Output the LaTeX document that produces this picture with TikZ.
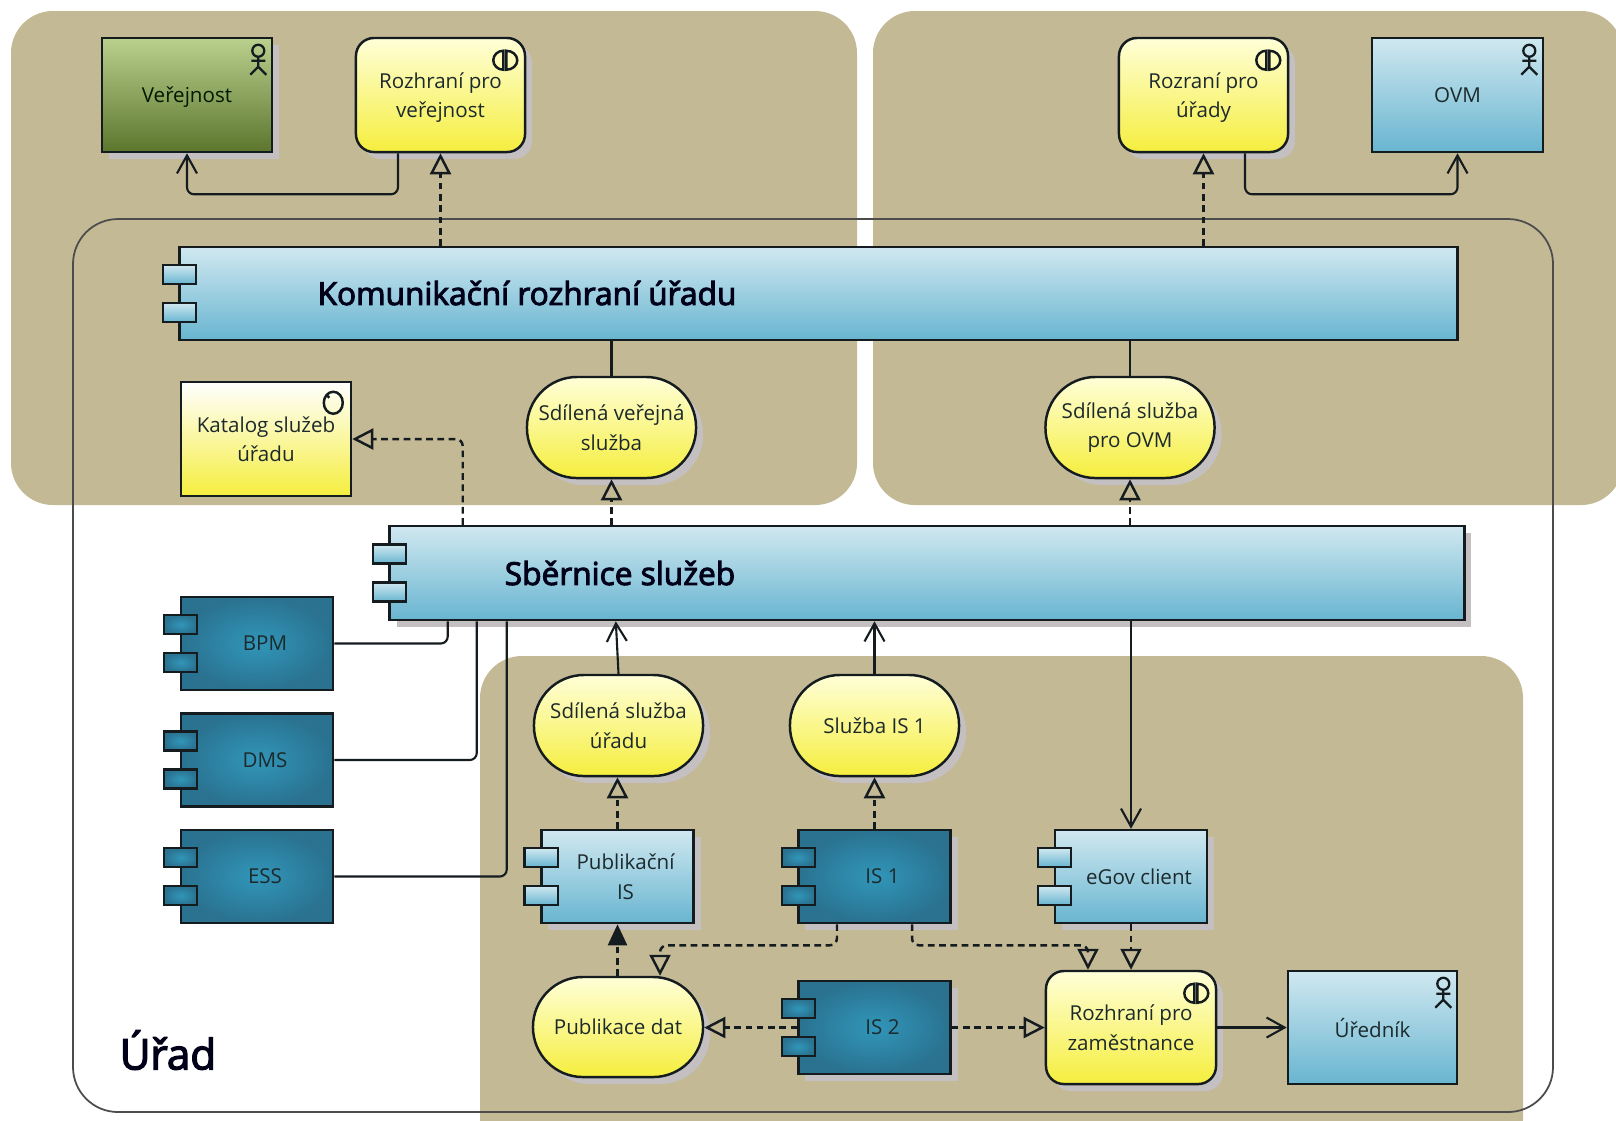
\documentclass[tikz,border=0pt]{standalone}
\usepackage{fontspec}
\setmainfont{Open Sans}
\newfontfamily\titlefont{Open Sans}[FakeBold=3]
\usetikzlibrary{arrows.meta,shadows}

\definecolor{panelcol}{HTML}{C3B995}
\definecolor{linecol}{HTML}{141C20}
\definecolor{shadcol}{HTML}{C4C0C2}
\definecolor{txtcol}{HTML}{1C2A2C}
\definecolor{yeltop}{HTML}{FFFFD8}
\definecolor{yelbot}{HTML}{F5EE3E}
\definecolor{blutop}{HTML}{D0E8F0}
\definecolor{blubot}{HTML}{68B5D0}
\definecolor{tealin}{HTML}{3196B9}
\definecolor{tealout}{HTML}{2A7290}
\definecolor{grntop}{HTML}{BAD08E}
\definecolor{grnbot}{HTML}{5C762D}

\newcommand{\cs}{\hspace*{.16cm}}

\tikzset{
  panel/.style={fill=panelcol, rounded corners=.42cm},
  box/.style={draw=linecol, line width=.7pt, inner sep=0pt, align=center, text=txtcol,
    font=\fontsize{5.85}{8.4}\selectfont},
  shad/.style={drop shadow={shadow xshift=.07cm, shadow yshift=-.07cm, fill=shadcol, opacity=1}},
  yellowfill/.style={top color=yeltop, bottom color=yelbot},
  bluefill/.style={top color=blutop, bottom color=blubot},
  greenfill/.style={top color=grntop, bottom color=grnbot},
  tealfill/.style={inner color=tealin, outer color=tealout},
  roundbox/.style={box, yellowfill, shad, rounded corners=.18cm, minimum width=1.69cm, minimum height=1.14cm},
  pill/.style={box, yellowfill, shad, rounded corners=.5cm, minimum width=1.69cm, minimum height=1.01cm},
  comp/.style={box, minimum width=1.52cm, minimum height=.93cm},
  actbox/.style={box, minimum width=1.69cm, minimum height=1.14cm},
  port/.style={draw=linecol, line width=.7pt, minimum width=.33cm, minimum height=.19cm, inner sep=0pt},
  conn/.style={draw=linecol, line width=.6pt, rounded corners=.07cm},
  depl/.style={conn, line width=.7pt, dash pattern=on 1.9pt off 1.3pt},
  barb/.style={-{Straight Barb[length=.18cm, width=.2cm]}},
  opent/.style={-{Triangle[open, length=.21cm, width=.21cm]}},
  solidt/.style={-{Triangle[length=.21cm, width=.19cm]}},
  title/.style={inner sep=0pt, text=black!90!blue, font=\titlefont\fontsize{9}{11}\selectfont}
}

\begin{document}
\begin{tikzpicture}[x=0.01cm,y=-0.01cm]
\clip (0,0) rectangle (1616,1120);
\fill[white] (0,0) rectangle (1616,1120);

\fill[panel] (11,11) rectangle (857,505);
\fill[panel] (873,11) rectangle (1623,505);
\fill[panel] (480,656) rectangle (1523,1160);
\draw[black!70, line width=.5pt, rounded corners=.45cm] (73,219) rectangle (1553,1112);

\node[actbox, greenfill, shad, minimum width=1.7cm, text depth=0pt, text=black!75!green!40!black] (ver) at (187,95) {Veřejnost};
\node[roundbox, text depth=0pt] (rver) at (440.5,95) {Rozhraní pro\\veřejnost};
\node[roundbox, text depth=0pt] (rur) at (1203.5,95) {Rozraní pro\\úřady};
\node[actbox, bluefill, minimum width=1.71cm] (ovm) at (1457.5,95) {OVM};

\node[box, bluefill, minimum width=12.77cm, minimum height=.93cm] (kom) at (818.5,293.5) {};
\node[title] (komtxt) at (527,293) {Komunikační rozhraní úřadu};

\node[actbox, top color=white, bottom color=yelbot, minimum width=1.7cm] (kat) at (266,439) {Katalog služeb\\úřadu};
\node[pill] (sver) at (611.5,427.5) {Sdílená veřejná\\služba};
\node[pill] (sovm) at (1130,427.5) {Sdílená služba\\pro OVM};

\node[box, bluefill, shad, minimum width=10.74cm, minimum height=.94cm] (sb) at (927,573) {};
\node[title] (sbtxt) at (620,573) {Sběrnice služeb};

\node[comp, tealfill] (bpm) at (257,643.5) {\cs BPM};
\node[comp, tealfill] (dms) at (257,760) {\cs DMS};
\node[comp, tealfill] (ess) at (257,876.5) {\cs ESS};

\node[pill] (sur) at (618.5,725.5) {Sdílená služba\\úřadu};
\node[pill] (sis) at (874.5,725.5) {Služba IS 1};

\node[comp, bluefill, shad] (pub) at (617.5,876.5) {\cs Publikační\\\cs IS};
\node[comp, tealfill, shad] (is1) at (874.5,876.5) {\cs IS 1};
\node[comp, bluefill, shad] (egov) at (1131,876.5) {\cs eGov client};

\node[pill, minimum width=1.7cm, minimum height=1cm] (pdat) at (618,1027) {Publikace dat};
\node[comp, tealfill, shad] (is2) at (874.5,1027.5) {\cs IS 2};
\node[roundbox, minimum width=1.7cm, minimum height=1.13cm] (rzam) at (1131,1027.5) {Rozhraní pro\\zaměstnance};
\node[actbox, bluefill, minimum height=1.13cm] (ured) at (1372.5,1027.5) {Úředník};

\node[title, font=\titlefont\fontsize{12}{14}\selectfont] (urad) at (168,1050) {Úřad};

\foreach \n in {kom,sb,pub,egov} {
  \node[port, bluefill] (\n a) at ([xshift=.01cm,yshift=.19cm]\n.west) {};
  \node[port, bluefill] (\n b) at ([xshift=.01cm,yshift=-.19cm]\n.west) {};
}
\foreach \n in {bpm,dms,ess,is1,is2} {
  \node[port, tealfill] (\n a) at ([xshift=.01cm,yshift=.19cm]\n.west) {};
  \node[port, tealfill] (\n b) at ([xshift=.01cm,yshift=-.19cm]\n.west) {};
}

\foreach \n in {ver,ovm,ured} {
  \draw[linecol, line width=.65pt, shift={(\n.north east)}] (-15,14) circle (6)
    (-15,20) -- (-15,30) (-22,24) -- (-8,24) (-23,38) -- (-15,30) -- (-7,38);
}
\foreach \n in {rver,rur,rzam} {
  \draw[linecol, line width=.7pt, shift={(\n.north east)}]
    (-23,14) arc[start angle=-90, end angle=-270, x radius=10, y radius=9.5] -- cycle
    (-20,14) arc[start angle=-90, end angle=90, x radius=11, y radius=9.5] -- cycle;
}
\draw[linecol, line width=.7pt, shift={(kat.north east)}]
  (-19,22) ellipse [x radius=9.5, y radius=11]
  (-26,14) -- (-23,17);

\draw[conn, barb] ([xshift=-.425cm]rver.south) -- ++(0,41) -| (ver.south);
\draw[depl, opent] (kom.north -| rver.south) -- (rver.south);
\draw[depl, opent] (kom.north -| rur.south) -- (rur.south);
\draw[conn, barb] ([xshift=.415cm]rur.south) -- ++(0,41) -| (ovm.south);

\draw[conn] (kom.south -| sver.north) -- (sver.north);
\draw[conn] (kom.south -| sovm.north) -- (sovm.north);
\draw[depl, opent] (sb.north -| sver.south) -- (sver.south);
\draw[depl, opent] (sb.north -| sovm.south) -- (sovm.south);
\draw[depl, opent] ([xshift=-4.64cm]sb.north) |- (kat.east);

\draw[conn] (bpm.east) -| ([xshift=-4.79cm]sb.south);
\draw[conn] (dms.east) -| ([xshift=-4.5cm]sb.south);
\draw[conn] (ess.east) -| ([xshift=-4.2cm]sb.south);

\draw[conn, barb] (sur.north) -- ([xshift=-3.11cm]sb.south);
\draw[conn, barb] (sis.north) -- (sb.south -| sis.north);
\draw[conn, barb] (sb.south -| egov.north) -- (egov.north);

\draw[depl, opent] (pub.north) -- (pub.north |- sur.south);
\draw[depl, opent] (is1.north) -- (is1.north |- sis.south);
\draw[depl, solidt] (pub.south |- pdat.north) -- (pub.south);

\draw[depl, opent] ([xshift=-.375cm]is1.south) -- ++(0,21) -| ([xshift=.42cm]pdat.north);
\draw[depl, opent] ([xshift=.375cm]is1.south) -- ++(0,21) -| ([xshift=-.43cm]rzam.north);
\draw[depl, opent] (egov.south) -- (rzam.north);

\draw[depl, opent] (is2.west) -- (is2.west -| pdat.east);
\draw[depl, opent] (is2.east) -- (rzam.west);
\draw[conn, barb] (rzam.east) -- (ured.west);
\end{tikzpicture}
\end{document}
